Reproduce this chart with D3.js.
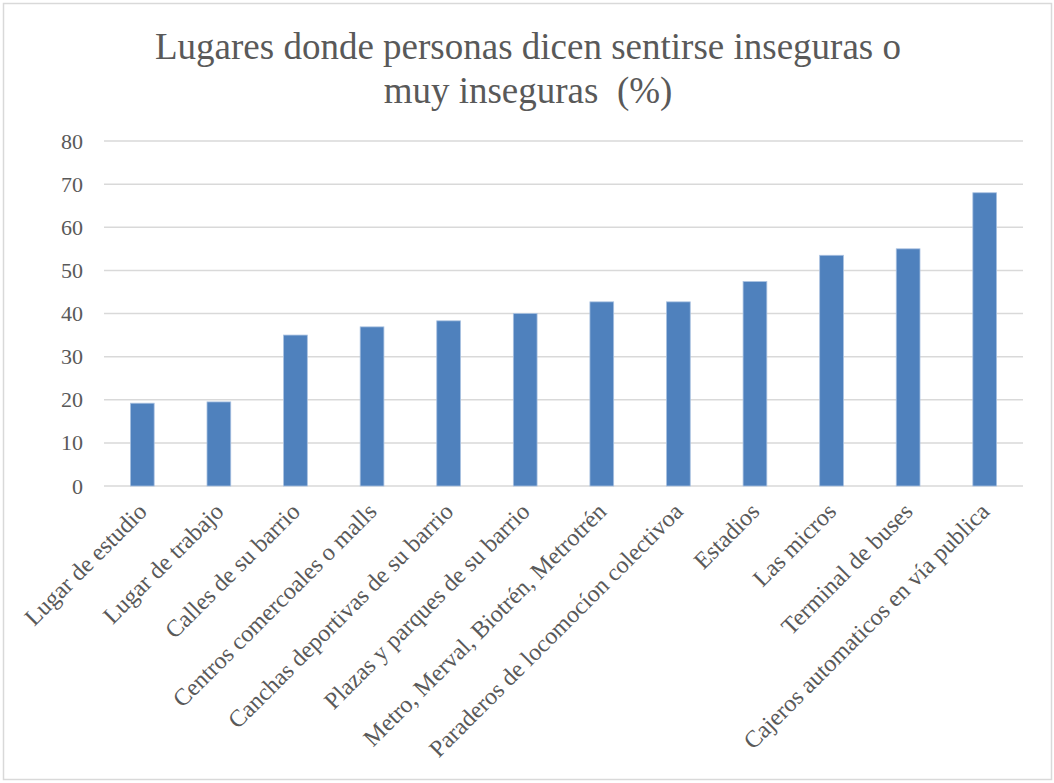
<!DOCTYPE html>
<html lang="es">
<head>
<meta charset="UTF-8">
<title>Lugares inseguros</title>
<script src="https://cdn.jsdelivr.net/npm/d3@7"></script>
<style>
    body { margin: 0; background: #fff; }
</style>
</head>
<body>
<script>
    var width = 1054;
    var height = 783;
    var serif = '"Liberation Serif", "Times New Roman", serif';

    var categories = [
        "Lugar de estudio",
        "Lugar de trabajo",
        "Calles de su barrio",
        "Centros comercoales o malls",
        "Canchas deportivas de su barrio",
        "Plazas y parques de su barrio",
        "Metro, Merval, Biotrén, Metrotrén",
        "Paraderos de locomocíon colectivoa",
        "Estadios",
        "Las micros",
        "Terminal de buses",
        "Cajeros automaticos en vía publica"
    ];
    var values = [19.2, 19.5, 35.0, 36.9, 38.3, 40.0, 42.7, 42.7, 47.4, 53.5, 55.0, 68.0];
    var yTicks = [0, 10, 20, 30, 40, 50, 60, 70, 80];
    var titleLines = ["Lugares donde personas dicen sentirse inseguras o", "muy inseguras  (%)"];

    var margin = {top: 141, right: 31, bottom: 297, left: 104};
    var innerW = width - margin.left - margin.right;
    var innerH = height - margin.top - margin.bottom;

    var svg = d3.select('body').append('svg')
        .attr('width', width)
        .attr('height', height);

    // chart border
    svg.append('rect')
        .attr('x', 3.5).attr('y', 3.5)
        .attr('width', width - 6).attr('height', height - 7)
        .attr('fill', '#fff')
        .attr('stroke', '#d9d9d9')
        .attr('stroke-width', 1.5);

    svg.append('text')
        .attr('text-anchor', 'middle')
        .style('font-family', serif)
        .style('font-size', '37px')
        .style('fill', '#595959')
        .style('white-space', 'pre')
        .selectAll('tspan')
        .data(titleLines)
        .enter()
        .append('tspan')
        .attr('x', 528)
        .attr('y', function (d, i) { return 59 + i * 44; })
        .text(function (d) { return d; });

    var g = svg.append('g')
        .attr('transform', 'translate(' + margin.left + ',' + margin.top + ')');

    var x = d3.scaleBand()
        .domain(categories)
        .range([0, innerW])
        .paddingInner(0.69)
        .paddingOuter(0.345);

    var y = d3.scaleLinear()
        .domain([0, 80])
        .range([innerH, 0]);

    // grid lines
    g.append('g')
        .selectAll('line')
        .data(yTicks)
        .enter()
        .append('line')
        .attr('x1', 0)
        .attr('x2', innerW)
        .attr('y1', function (d) { return y(d); })
        .attr('y2', function (d) { return y(d); })
        .attr('stroke', '#d9d9d9')
        .attr('stroke-width', 1.5);

    // y axis labels
    var yAxis = d3.axisLeft(y).tickValues(yTicks).tickSize(0).tickPadding(21);
    var yg = g.append('g').call(yAxis);
    yg.select('.domain').remove();
    yg.selectAll('text')
        .style('font-family', serif)
        .style('font-size', '22px')
        .attr('fill', '#595959');

    // bars
    g.selectAll('.bar')
        .data(values)
        .enter()
        .append('rect')
        .attr('class', 'bar')
        .attr('x', function (d, i) { return x(categories[i]); })
        .attr('y', function (d) { return y(d); })
        .attr('width', x.bandwidth())
        .attr('height', function (d) { return innerH - y(d); })
        .attr('fill', '#4f81bd')
        .attr('stroke', '#a9c1e0')
        .attr('stroke-width', 0.8);

    // x axis labels
    var xAxis = d3.axisBottom(x).tickSize(0).tickPadding(0);
    var xg = g.append('g')
        .attr('transform', 'translate(0,' + innerH + ')')
        .call(xAxis);
    xg.select('.domain').remove();
    xg.selectAll('text')
        .style('font-family', serif)
        .style('font-size', '24px')
        .attr('fill', '#595959')
        .attr('text-anchor', 'end')
        .attr('dy', 0)
        .attr('transform', 'translate(6,27) rotate(-45)');
</script>
</body>
</html>
